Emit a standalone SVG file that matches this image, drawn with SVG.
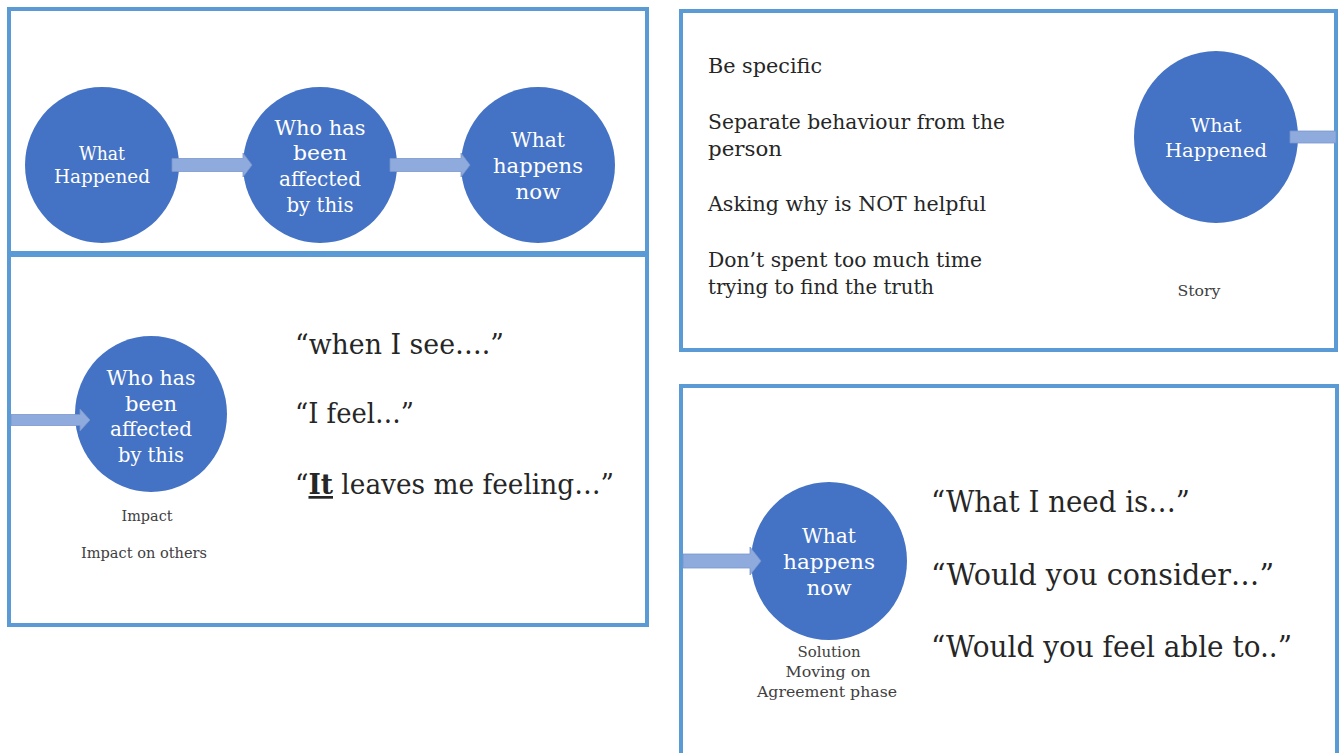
<svg xmlns="http://www.w3.org/2000/svg" width="1342" height="753" viewBox="0 0 1342 753">
<style>
.panel{fill:#fff;stroke:#5B9BD5;stroke-width:4}
.node{fill:#4472C4}
.nt{font-family:"DejaVu Serif","Liberation Serif",serif;fill:#fff;text-anchor:middle}
.arrow{fill:#8FAADC;stroke:#7A97CC;stroke-width:0.8}
.body{font-family:"DejaVu Serif","Liberation Serif",serif;fill:#262626}
.lab{font-family:"DejaVu Serif","Liberation Serif",serif;fill:#404040;text-anchor:middle;font-size:14px}
</style>
<rect width="1342" height="753" fill="#fff"/>
<g id="panels">
<rect class="panel" x="9" y="9" width="638" height="244"/>
<rect class="panel" x="9" y="255" width="638" height="370"/>
<rect class="panel" x="681" y="11" width="655" height="339"/>
<path class="panel" d="M681,760 V386 H1337 V760"/>
</g>
<g id="n1">
<ellipse class="node" cx="102" cy="165" rx="77" ry="78"/>
<text class="nt" font-size="19" x="102" y="160" textLength="46" lengthAdjust="spacingAndGlyphs">What</text>
<text class="nt" font-size="19" x="102" y="183" textLength="96" lengthAdjust="spacingAndGlyphs">Happened</text>
</g>
<g id="n2">
<ellipse class="node" cx="320" cy="165" rx="77" ry="78"/>
<text class="nt" font-size="21" x="320" y="135" textLength="91" lengthAdjust="spacingAndGlyphs">Who has</text>
<text class="nt" font-size="21" x="320" y="160" textLength="54" lengthAdjust="spacingAndGlyphs">been</text>
<text class="nt" font-size="21" x="320" y="186" textLength="82" lengthAdjust="spacingAndGlyphs">affected</text>
<text class="nt" font-size="21" x="320" y="212" textLength="67" lengthAdjust="spacingAndGlyphs">by this</text>
</g>
<g id="n3">
<ellipse class="node" cx="538" cy="165" rx="77" ry="78"/>
<text class="nt" font-size="21" x="538" y="147" textLength="54" lengthAdjust="spacingAndGlyphs">What</text>
<text class="nt" font-size="21" x="538" y="173" textLength="90" lengthAdjust="spacingAndGlyphs">happens</text>
<text class="nt" font-size="21" x="538" y="199" textLength="45" lengthAdjust="spacingAndGlyphs">now</text>
</g>
<g id="n4">
<ellipse class="node" cx="151" cy="414" rx="76" ry="78"/>
<text class="nt" font-size="21" x="151" y="385" textLength="89" lengthAdjust="spacingAndGlyphs">Who has</text>
<text class="nt" font-size="21" x="151" y="411" textLength="52" lengthAdjust="spacingAndGlyphs">been</text>
<text class="nt" font-size="21" x="151" y="436" textLength="82" lengthAdjust="spacingAndGlyphs">affected</text>
<text class="nt" font-size="21" x="151" y="462" textLength="66" lengthAdjust="spacingAndGlyphs">by this</text>
<text class="lab" x="147" y="521" textLength="51" lengthAdjust="spacingAndGlyphs">Impact</text>
<text class="lab" x="144" y="558" textLength="126" lengthAdjust="spacingAndGlyphs">Impact on others</text>
</g>
<g id="quotes1">
<text class="body" font-size="27" x="295" y="354" textLength="209" lengthAdjust="spacingAndGlyphs">“when I see….”</text>
<text class="body" font-size="27" x="295" y="423" textLength="119" lengthAdjust="spacingAndGlyphs">“I feel…”</text>
<text class="body" font-size="27" x="295" y="494" textLength="319" lengthAdjust="spacingAndGlyphs">“<tspan font-weight="bold" text-decoration="underline">It</tspan> leaves me feeling…”</text>
</g>
<g id="n5">
<ellipse class="node" cx="1216" cy="137" rx="82" ry="86"/>
<text class="nt" font-size="19" x="1216" y="132" textLength="51" lengthAdjust="spacingAndGlyphs">What</text>
<text class="nt" font-size="19" x="1216" y="157" textLength="102" lengthAdjust="spacingAndGlyphs">Happened</text>
<text class="lab" x="1199" y="296" font-size="15" textLength="43" lengthAdjust="spacingAndGlyphs">Story</text>
</g>
<g id="tips">
<text class="body" font-size="20" x="708" y="73" textLength="114" lengthAdjust="spacingAndGlyphs">Be specific</text>
<text class="body" font-size="20" x="708" y="129" textLength="297" lengthAdjust="spacingAndGlyphs">Separate behaviour from the</text>
<text class="body" font-size="20" x="708" y="156" textLength="74" lengthAdjust="spacingAndGlyphs">person</text>
<text class="body" font-size="20" x="708" y="211" textLength="278" lengthAdjust="spacingAndGlyphs">Asking why is NOT helpful</text>
<text class="body" font-size="20" x="708" y="267" textLength="274" lengthAdjust="spacingAndGlyphs">Don’t spent too much time</text>
<text class="body" font-size="20" x="708" y="294" textLength="226" lengthAdjust="spacingAndGlyphs">trying to find the truth</text>
</g>
<g id="n6">
<ellipse class="node" cx="829" cy="561" rx="78" ry="79"/>
<text class="nt" font-size="21" x="829" y="543" textLength="54" lengthAdjust="spacingAndGlyphs">What</text>
<text class="nt" font-size="21" x="829" y="569" textLength="92" lengthAdjust="spacingAndGlyphs">happens</text>
<text class="nt" font-size="21" x="829" y="595" textLength="45" lengthAdjust="spacingAndGlyphs">now</text>
<text class="lab" x="829" y="657" textLength="63" lengthAdjust="spacingAndGlyphs">Solution</text>
<text class="lab" x="828" y="677" textLength="85" lengthAdjust="spacingAndGlyphs">Moving on</text>
<text class="lab" x="827" y="697" textLength="140" lengthAdjust="spacingAndGlyphs">Agreement phase</text>
</g>
<g id="quotes2">
<text class="body" font-size="30" x="931" y="512" textLength="259" lengthAdjust="spacingAndGlyphs">“What I need is…”</text>
<text class="body" font-size="30" x="931" y="585" textLength="343" lengthAdjust="spacingAndGlyphs">“Would you consider…”</text>
<text class="body" font-size="30" x="931" y="657" textLength="361" lengthAdjust="spacingAndGlyphs">“Would you feel able to..”</text>
</g>
<g id="connectors">
<path class="arrow" d="M172,158.5 H243 V153 L252,165 L243,177 V171.5 H172 Z"/>
<path class="arrow" d="M390,158.5 H461 V153 L470,165 L461,177 V171.5 H390 Z"/>
<path class="arrow" d="M11,414.5 H80 V409 L90,420 L80,431 V425.5 H11 Z"/>
<path class="arrow" d="M1290,131 H1336 V143 H1290 Z"/>
<path class="arrow" d="M683,554 H750 V547 L761,561 L750,575 V568 H683 Z"/>
</g>
</svg>
